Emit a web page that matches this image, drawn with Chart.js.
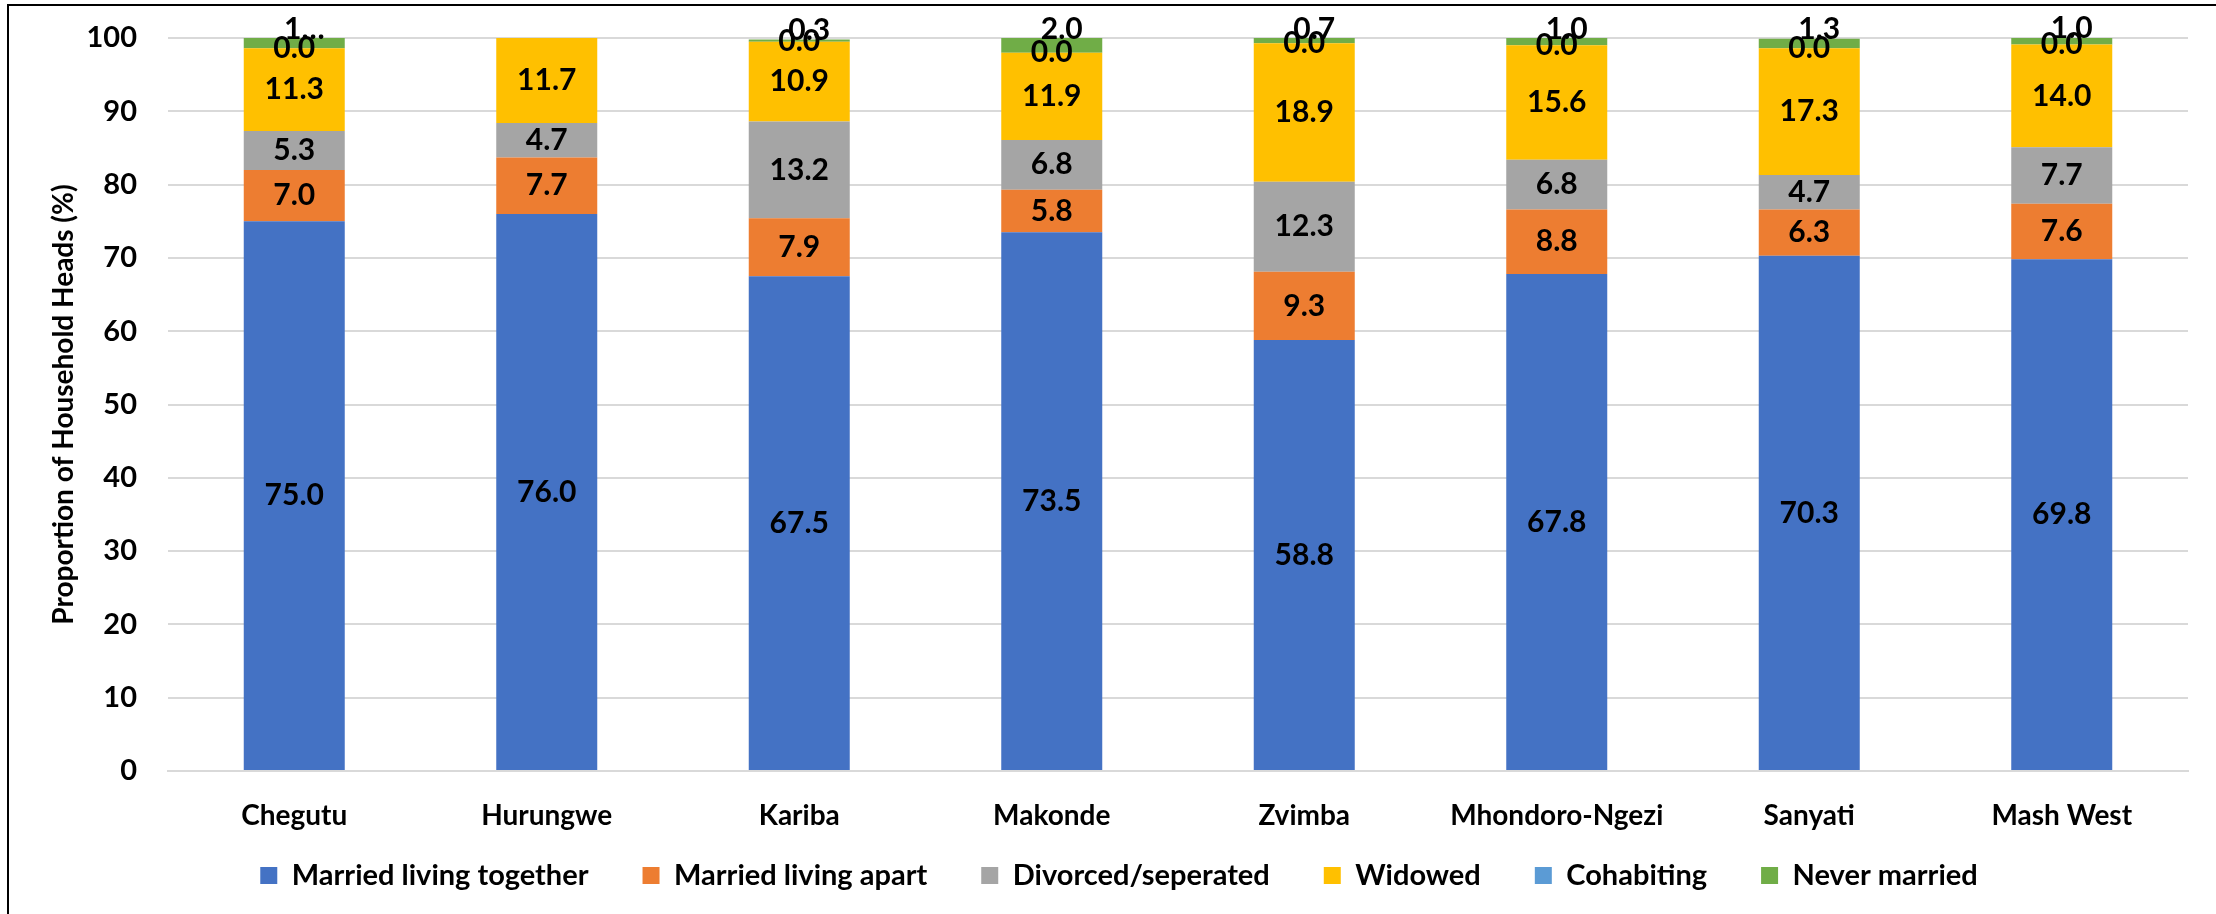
<!DOCTYPE html>
<html>
<head>
<meta charset="utf-8">
<script src="https://cdn.jsdelivr.net/npm/chart.js@4"></script>
<style>
    html, body { margin: 0; padding: 0; background: #fff; overflow: hidden; }
    #wrap { position: relative; width: 2216px; height: 914px; }
    #frame { position: absolute; left: 7px; top: 4px; width: 2300px; height: 1000px; border: 2px solid #000; box-sizing: border-box; }
    canvas { position: absolute; left: 0; top: 0; }
</style>
</head>
<body>
<div id="wrap">
    <div id="frame"></div>
    <canvas id="maritalChart" width="2216" height="914"></canvas>
</div>
<script>
const districts = ['Chegutu', 'Hurungwe', 'Kariba', 'Makonde', 'Zvimba', 'Mhondoro-Ngezi', 'Sanyati', 'Mash West'];

const marriedTogether = [75.0, 76.0, 67.5, 73.5, 58.8, 67.8, 70.3, 69.8];
const marriedApart    = [7.0, 7.7, 7.9, 5.8, 9.3, 8.8, 6.3, 7.6];
const divorced        = [5.3, 4.7, 13.2, 6.8, 12.3, 6.8, 4.7, 7.7];
const widowed         = [11.3, 11.7, 10.9, 11.9, 18.9, 15.6, 17.3, 14.0];
const cohabiting      = [0.0, null, 0.0, 0.0, 0.0, 0.0, 0.0, 0.0];
const neverMarried    = [1.4, null, 0.3, 2.0, 0.7, 1.0, 1.3, 1.0];

// Excel cut the Chegutu label short, keep that text
const neverMarriedText = ['1…', '', '0.3', '2.0', '0.7', '1.0', '1.3', '1.0'];

const yTicks = [0, 10, 20, 30, 40, 50, 60, 70, 80, 90, 100];

const FONT = 'Lato';
const LEGEND_ROOM = 62;   // space kept for the legend row
const LEGEND_LIFT = 33;   // legend padding is wide for the item gaps, pull the row back up

// Labels inside the stacked segments
const segmentLabels = {
    id: 'segmentLabels',
    afterDatasetsDraw(chart) {
        const ctx = chart.ctx;
        ctx.save();
        ctx.font = 'bold 30px ' + FONT;
        ctx.fillStyle = '#000';
        ctx.textAlign = 'center';
        ctx.textBaseline = 'middle';
        chart.data.datasets.forEach((ds, i) => {
            const meta = chart.getDatasetMeta(i);
            meta.data.forEach((bar, j) => {
                const v = ds.data[j];
                if (v === null || v === undefined) return;
                let text = v.toFixed(1);
                let x = bar.x;
                let y = (bar.y + bar.base) / 2;
                if (ds.label === 'Never married') {
                    text = neverMarriedText[j];
                    x += 10;
                    y = bar.y - 9;
                }
                ctx.fillText(text, x, y);
            });
        });
        ctx.restore();
    }
};

// Keep the legend row short even with the wide item padding
const legendRow = {
    id: 'legendRow',
    beforeLayout(chart) {
        const legend = chart.legend;
        if (!legend || legend._rowFit) return;
        const fit = legend.fit;
        legend.fit = function () {
            fit.call(this);
            this.height = LEGEND_ROOM;
        };
        legend._rowFit = true;
    },
    afterLayout(chart) {
        if (chart.legend) chart.legend.top -= LEGEND_LIFT;
    }
};

const ctx = document.getElementById('maritalChart').getContext('2d');

new Chart(ctx, {
    type: 'bar',
    data: {
        labels: districts,
        datasets: [
            { label: 'Married living together', data: marriedTogether, backgroundColor: '#4472C4' },
            { label: 'Married living apart', data: marriedApart, backgroundColor: '#ED7D31' },
            { label: 'Divorced/seperated', data: divorced, backgroundColor: '#A5A5A5' },
            { label: 'Widowed', data: widowed, backgroundColor: '#FFC000' },
            { label: 'Cohabiting', data: cohabiting, backgroundColor: '#5B9BD5' },
            { label: 'Never married', data: neverMarried, backgroundColor: '#70AD47' }
        ]
    },
    options: {
        responsive: false,
        animation: false,
        devicePixelRatio: 1,
        categoryPercentage: 0.4,
        barPercentage: 1.0,
        layout: {
            padding: { left: 50, top: 38, right: 28, bottom: 12 }
        },
        plugins: {
            legend: {
                position: 'bottom',
                onClick: null,
                labels: {
                    boxWidth: 17,
                    boxHeight: 17,
                    padding: 54,
                    color: '#000',
                    font: { family: FONT, size: 29, weight: 'bold' }
                }
            },
            tooltip: { enabled: false }
        },
        scales: {
            x: {
                stacked: true,
                grid: { display: false, drawTicks: false },
                border: { display: true, color: '#D9D9D9', width: 2 },
                ticks: {
                    color: '#000',
                    padding: 28,
                    font: { family: FONT, size: 28, weight: 'bold' }
                },
                afterFit(axis) { axis.height = 69; }
            },
            y: {
                stacked: true,
                min: 0,
                max: 100,
                afterBuildTicks(axis) { axis.ticks = yTicks.map(v => ({ value: v })); },
                grid: { color: '#D9D9D9', lineWidth: 2, drawTicks: true, tickLength: 31, tickColor: 'rgba(0,0,0,0)' },
                border: { display: false },
                ticks: {
                    color: '#000',
                    padding: 0,
                    font: { family: FONT, size: 29, weight: 'bold' }
                },
                title: {
                    display: true,
                    text: 'Proportion of Household Heads (%)',
                    color: '#000',
                    padding: { top: -3, bottom: 0 },
                    font: { family: FONT, size: 28, weight: 'bold' }
                },
                afterFit(axis) { axis.width = 118; }
            }
        }
    },
    plugins: [segmentLabels, legendRow]
});
</script>
</body>
</html>
